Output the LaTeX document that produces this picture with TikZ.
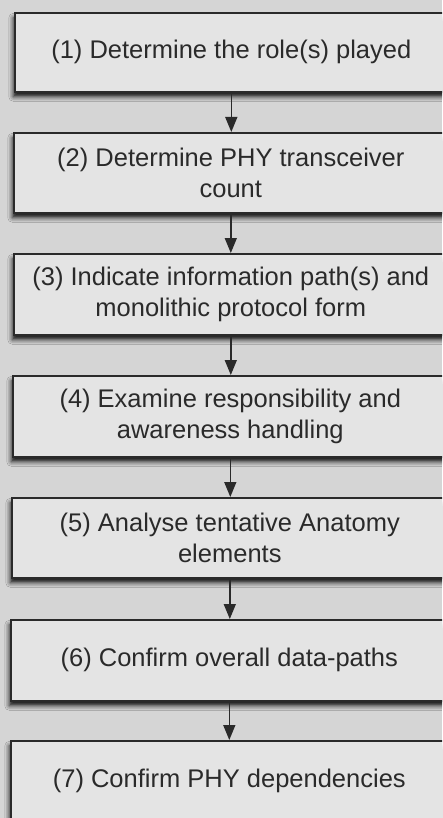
\documentclass[tikz,border=0pt]{standalone}
\usepackage{fontspec}
\setmainfont{Liberation Sans}
\usetikzlibrary{arrows.meta,shadows.blur}
\definecolor{pagegrey}{HTML}{D5D5D5}
\definecolor{boxfill}{HTML}{E4E4E4}
\definecolor{inkgrey}{HTML}{2A2A2A}
\tikzset{
  stepbox/.style={draw=inkgrey, line width=1.6pt, fill=boxfill, rectangle,
    anchor=north west, align=center, text=inkgrey, inner sep=0pt,
    font=\fontsize{25.5}{30.5}\selectfont,
    blur shadow={shadow xshift=-1.5pt, shadow yshift=-5pt,
      shadow blur radius=4.5pt, shadow opacity=90}},
  flow/.style={draw=inkgrey, line width=1.5pt,
    -{Triangle[width=12pt,length=15pt]}}
}
\begin{document}
\begin{tikzpicture}[x=1pt,y=-1pt]
\useasboundingbox (0,0) rectangle (442,818);
\fill[pagegrey] (0,0) rectangle (442,818);
\clip (0,0) rectangle (442,818);
% boxes: left edge, top, height; right edge runs past the page at x=447
\node[stepbox, minimum width=433pt, minimum height=79pt] (b1) at (14,12)
  {(1) Determine the role(s) played};
\node[stepbox, minimum width=434pt, minimum height=80pt] (b2) at (13,132)
  {(2) Determine PHY transceiver\\count};
\node[stepbox, minimum width=434pt, minimum height=81pt] (b3) at (13,253)
  {(3) Indicate information path(s) and\\monolithic protocol form};
\node[stepbox, minimum width=435pt, minimum height=81pt] (b4) at (12,375)
  {(4) Examine responsibility and\\awareness handling};
\node[stepbox, minimum width=436pt, minimum height=80pt] (b5) at (11,497)
  {(5) Analyse tentative Anatomy\\elements};
\node[stepbox, minimum width=437pt, minimum height=81pt] (b6) at (10,619)
  {(6) Confirm overall data-paths};
\node[stepbox, minimum width=437pt, minimum height=81pt] (b7) at (10,740)
  {(7) Confirm PHY dependencies};
% connectors
\foreach \a/\b in {b1/b2,b2/b3,b3/b4,b4/b5,b5/b6,b6/b7}
  \draw[flow] (\a.south) -- (\a.south |- \b.north);
\end{tikzpicture}
\end{document}
